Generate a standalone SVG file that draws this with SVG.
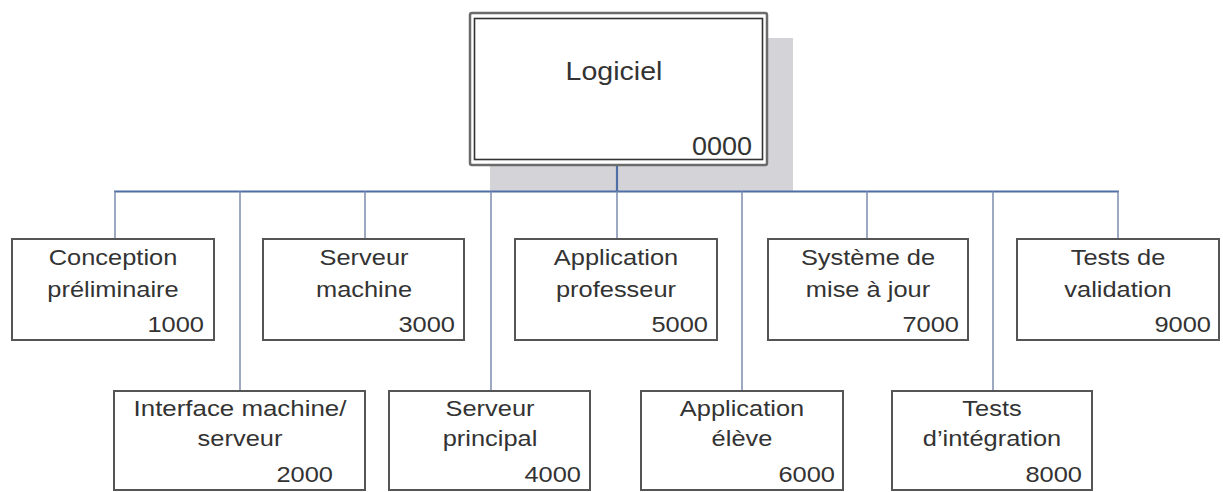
<svg xmlns="http://www.w3.org/2000/svg" width="1223" height="492" viewBox="0 0 1223 492">
<style>
.box{fill:#fff;stroke:#555;stroke-width:2}
.t{font-family:"Liberation Sans",Arial,sans-serif;font-size:22.5px;fill:#333}
.c{text-anchor:middle}
.n{text-anchor:end}
.rt{font-family:"Liberation Sans",Arial,sans-serif;font-size:25.5px;fill:#333}
.main{stroke:#4f6ea6;stroke-width:2.2;fill:none}
.drop{stroke:#8494b2;stroke-width:1.6;fill:none}
</style>
<rect x="490" y="38" width="303" height="153" fill="#d4d4d8"/>
<g id="connectors">
<line class="main" x1="617" y1="165" x2="617" y2="191.5"/>
<line class="main" x1="114" y1="191.5" x2="1119" y2="191.5"/>
<line class="drop" x1="115" y1="191.5" x2="115" y2="239"/>
<line class="drop" x1="365" y1="191.5" x2="365" y2="239"/>
<line class="drop" x1="617" y1="191.5" x2="617" y2="239"/>
<line class="drop" x1="867" y1="191.5" x2="867" y2="239"/>
<line class="drop" x1="1118" y1="191.5" x2="1118" y2="239"/>
<line class="drop" x1="240" y1="191.5" x2="240" y2="391"/>
<line class="drop" x1="491" y1="191.5" x2="491" y2="391"/>
<line class="drop" x1="742" y1="191.5" x2="742" y2="391"/>
<line class="drop" x1="993" y1="191.5" x2="993" y2="391"/>
</g>
<g id="root">
<rect x="470" y="13" width="297" height="152" rx="2" fill="#fff" stroke="#6b6b6b" stroke-width="2.5"/>
<rect x="474.5" y="18.5" width="288" height="141" fill="none" stroke="#333" stroke-width="1.6"/>
<text class="rt c" transform="translate(614,80) scale(1.12,1)">Logiciel</text>
<text class="rt n" transform="translate(752,155) scale(1.06,1)">0000</text>
</g>
<g id="n1000">
<rect class="box" x="12" y="239" width="202" height="101"/>
<text class="t c" transform="translate(113,265) scale(1.13,1)">Conception</text>
<text class="t c" transform="translate(113,297) scale(1.13,1)">préliminaire</text>
<text class="t n" transform="translate(204,332) scale(1.13,1)">1000</text>
</g>
<g id="n3000">
<rect class="box" x="263" y="239" width="201" height="101"/>
<text class="t c" transform="translate(364,265) scale(1.13,1)">Serveur</text>
<text class="t c" transform="translate(364,297) scale(1.13,1)">machine</text>
<text class="t n" transform="translate(455,332) scale(1.13,1)">3000</text>
</g>
<g id="n5000">
<rect class="box" x="515" y="239" width="202" height="101"/>
<text class="t c" transform="translate(616,265) scale(1.13,1)">Application</text>
<text class="t c" transform="translate(616,297) scale(1.13,1)">professeur</text>
<text class="t n" transform="translate(708,332) scale(1.13,1)">5000</text>
</g>
<g id="n7000">
<rect class="box" x="768" y="239" width="200" height="101"/>
<text class="t c" transform="translate(868,265) scale(1.13,1)">Système de</text>
<text class="t c" transform="translate(868,297) scale(1.13,1)">mise à jour</text>
<text class="t n" transform="translate(959,332) scale(1.13,1)">7000</text>
</g>
<g id="n9000">
<rect class="box" x="1017" y="239" width="202" height="101"/>
<text class="t c" transform="translate(1118,265) scale(1.13,1)">Tests de</text>
<text class="t c" transform="translate(1118,297) scale(1.13,1)">validation</text>
<text class="t n" transform="translate(1211,332) scale(1.13,1)">9000</text>
</g>
<g id="n2000">
<rect class="box" x="114" y="391" width="251" height="99"/>
<text class="t c" transform="translate(240,416) scale(1.15,1)">Interface machine/</text>
<text class="t c" transform="translate(240,446) scale(1.13,1)">serveur</text>
<text class="t n" transform="translate(333,482) scale(1.13,1)">2000</text>
</g>
<g id="n4000">
<rect class="box" x="389" y="391" width="201" height="99"/>
<text class="t c" transform="translate(490,416) scale(1.13,1)">Serveur</text>
<text class="t c" transform="translate(490,446) scale(1.13,1)">principal</text>
<text class="t n" transform="translate(581,482) scale(1.13,1)">4000</text>
</g>
<g id="n6000">
<rect class="box" x="641" y="391" width="202" height="99"/>
<text class="t c" transform="translate(742,416) scale(1.13,1)">Application</text>
<text class="t c" transform="translate(742,446) scale(1.13,1)">élève</text>
<text class="t n" transform="translate(835,482) scale(1.13,1)">6000</text>
</g>
<g id="n8000">
<rect class="box" x="892" y="391" width="200" height="99"/>
<text class="t c" transform="translate(992,416) scale(1.13,1)">Tests</text>
<text class="t c" transform="translate(992,446) scale(1.13,1)">d’intégration</text>
<text class="t n" transform="translate(1082,482) scale(1.13,1)">8000</text>
</g>
</svg>
